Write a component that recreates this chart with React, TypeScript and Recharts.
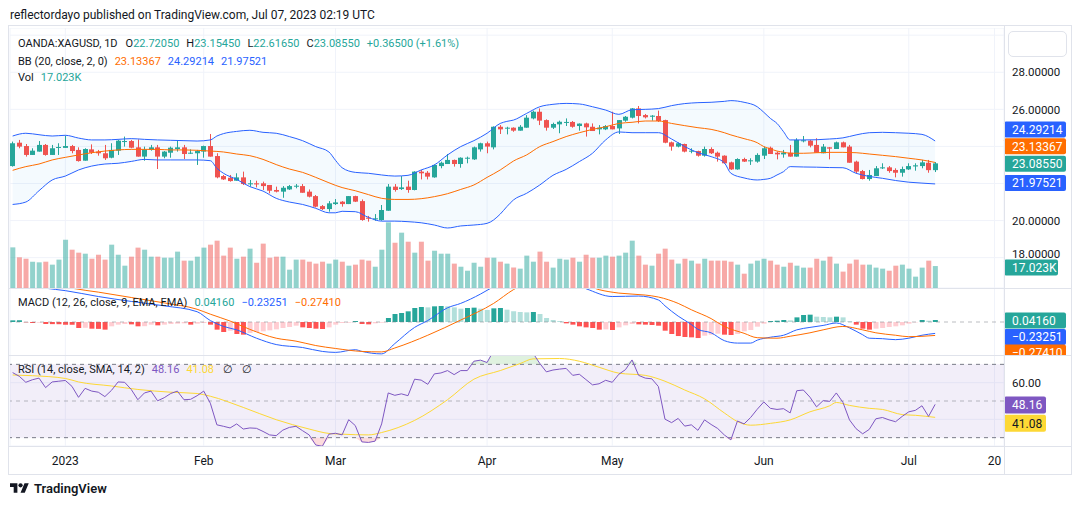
import {
  ComposedChart, Bar, Line, Area, XAxis, YAxis, CartesianGrid,
  ReferenceLine, ReferenceArea, Cell,
} from 'recharts';

// ── Palette / layout ─────────────────────────────────────────────────────────

const FONT = 'Roboto, "Noto Sans", sans-serif';
const TEXT = '#131722';
const UP = '#26a69a';
const DOWN = '#ef5350';
const BLUE = '#2962ff';
const ORANGE = '#ff6d00';
const PURPLE = '#7e57c2';
const YELLOW = '#fdd835';
const GRID = '#f0f3fa';
const BORDER = '#e0e3eb';

const W = 1071;
const PLOT_LEFT = 10;
const AXIS_W = 67;
const X_DOMAIN: [number, number] = [0.6, 151.45];

// bar index of each month start on the date axis
const DATE_TICKS = [9, 30, 50, 73, 92, 115, 137, 150];
const DATE_LABELS = ['2023', 'Feb', 'Mar', 'Apr', 'May', 'Jun', 'Jul', '20'];
const PRICE_TICKS = [18, 20, 22, 24, 26, 28, 30];
const RSI_TICKS = [40, 60];
// scale labels that sit under a value tag
const COVERED_PRICE = [22, 24];
const COVERED_RSI = [40];

// ── XAGUSD daily, Dec 21 → Jul 7 ─────────────────────────────────────────────

const opens = [
  22.94, 24.20, 24.02, 23.54, 23.72, 24.08, 23.54, 23.93, 23.92, 24.02,
  23.81, 23.23, 23.84, 23.72, 23.63, 23.39, 23.77, 24.26, 24.29, 23.95,
  23.45, 23.81, 23.95, 23.45, 23.66, 23.86, 23.95, 23.63, 23.63, 23.72,
  24.02, 23.48, 22.40, 22.31, 22.15, 22.33, 21.97, 22.01, 22.01, 21.92,
  21.65, 21.56, 21.68, 21.84, 21.86, 21.56, 21.32, 20.78, 20.62, 20.89,
  21.02, 20.89, 21.32, 21.05, 20.16, 20.07, 20.03, 20.53, 21.83, 21.70,
  21.83, 21.65, 22.64, 22.58, 22.33, 22.94, 23.05, 23.27, 23.05, 23.36,
  23.30, 23.84, 24.17, 23.95, 25.06, 24.99, 25.01, 24.85, 25.01, 25.51,
  25.87, 25.42, 25.01, 25.19, 25.28, 25.32, 25.10, 25.24, 25.06, 24.92,
  24.92, 25.10, 24.97, 25.39, 25.55, 26.05, 25.69, 25.60, 25.64, 25.42,
  24.22, 23.99, 24.13, 23.72, 23.75, 23.50, 23.86, 23.66, 23.50, 23.14,
  22.76, 23.32, 23.21, 23.18, 23.50, 23.93, 23.66, 23.57, 23.66, 23.45,
  24.29, 24.31, 24.08, 23.63, 23.95, 23.86, 24.22, 23.99, 23.18, 22.67,
  22.24, 22.40, 22.82, 22.87, 22.73, 22.58, 22.76, 22.92, 22.94, 23.12,
  22.7205,
];
const highs = [
  24.26, 24.35, 24.13, 23.90, 24.29, 24.13, 24.08, 24.17, 24.58, 24.08,
  23.95, 23.90, 24.11, 23.81, 24.08, 24.17, 24.35, 24.53, 24.35, 24.38,
  23.99, 24.08, 24.08, 23.75, 23.99, 24.31, 24.08, 23.84, 23.81, 24.04,
  24.67, 23.63, 22.46, 22.46, 22.55, 22.64, 22.19, 22.15, 22.10, 21.92,
  21.83, 21.86, 21.92, 21.97, 21.97, 21.68, 21.38, 20.84, 21.05, 21.16,
  21.05, 21.32, 21.34, 21.14, 20.25, 20.35, 20.84, 21.97, 21.97, 22.40,
  22.15, 22.66, 22.73, 22.67, 23.03, 23.18, 23.59, 23.29, 23.41, 23.45,
  23.99, 24.20, 24.26, 25.08, 25.15, 25.06, 25.03, 25.15, 25.69, 25.93,
  26.05, 25.46, 25.28, 25.39, 25.51, 25.37, 25.24, 25.28, 25.24, 25.15,
  25.15, 25.87, 25.42, 25.64, 26.07, 26.18, 25.75, 25.69, 25.93, 25.44,
  24.26, 24.22, 24.15, 23.90, 23.77, 23.99, 23.95, 23.72, 23.52, 23.18,
  23.36, 23.39, 23.36, 23.63, 23.99, 23.99, 23.72, 23.81, 24.08, 24.44,
  24.56, 24.35, 24.44, 24.13, 23.97, 24.26, 24.26, 24.08, 23.23, 22.73,
  22.73, 22.94, 23.09, 22.94, 22.82, 22.91, 23.09, 23.09, 23.27, 23.27,
  23.1545,
];
const lows = [
  22.91, 23.90, 23.45, 23.54, 23.72, 23.50, 23.54, 23.54, 23.92, 23.63,
  23.18, 23.23, 23.59, 23.50, 23.27, 23.36, 23.54, 23.99, 23.90, 23.45,
  23.23, 23.77, 22.78, 23.36, 23.39, 23.72, 23.32, 23.59, 23.00, 23.39,
  23.45, 22.28, 22.19, 22.10, 22.15, 21.92, 21.83, 21.79, 21.65, 21.47,
  21.52, 21.23, 21.65, 21.74, 21.50, 21.25, 20.71, 20.57, 20.48, 20.84,
  20.75, 20.89, 21.00, 19.99, 19.94, 19.99, 19.99, 20.53, 21.56, 21.65,
  21.50, 21.63, 22.22, 22.22, 22.31, 22.82, 23.05, 22.91, 22.85, 23.09,
  23.27, 23.72, 23.63, 23.84, 24.67, 24.65, 24.79, 24.85, 25.01, 25.46,
  25.15, 24.85, 24.94, 24.71, 25.10, 25.01, 24.85, 24.53, 24.83, 24.65,
  24.88, 24.92, 24.67, 25.33, 25.51, 25.24, 25.51, 25.39, 25.32, 24.17,
  23.77, 23.95, 23.68, 23.63, 23.45, 23.45, 23.59, 23.18, 23.07, 22.73,
  22.74, 23.16, 23.00, 23.12, 23.32, 23.59, 23.30, 23.39, 23.45, 23.45,
  24.22, 23.95, 23.66, 23.63, 23.30, 23.86, 23.95, 23.12, 22.55, 22.22,
  22.15, 22.40, 22.78, 22.58, 22.33, 22.37, 22.73, 22.69, 22.82, 22.58,
  22.6165,
];
const closes = [
  24.17, 23.99, 23.54, 23.77, 24.08, 23.54, 23.90, 23.97, 24.02, 23.75,
  23.21, 23.86, 23.66, 23.63, 23.36, 23.81, 24.31, 24.29, 23.93, 23.45,
  23.84, 23.95, 23.45, 23.72, 23.93, 23.95, 23.59, 23.66, 23.75, 24.02,
  23.45, 22.33, 22.22, 22.13, 22.33, 21.97, 22.01, 21.95, 21.86, 21.61,
  21.56, 21.77, 21.86, 21.88, 21.50, 21.29, 20.75, 20.62, 20.93, 20.98,
  20.89, 21.32, 21.02, 20.03, 20.10, 20.12, 20.57, 21.83, 21.65, 21.79,
  21.65, 22.64, 22.55, 22.37, 23.00, 23.12, 23.27, 23.05, 23.39, 23.39,
  23.95, 24.17, 23.99, 25.06, 24.92, 25.01, 24.85, 25.06, 25.55, 25.87,
  25.39, 25.01, 25.21, 25.33, 25.32, 25.06, 25.23, 25.03, 24.83, 25.01,
  25.10, 24.92, 25.42, 25.60, 26.05, 25.64, 25.57, 25.66, 25.37, 24.20,
  23.99, 24.17, 23.72, 23.77, 23.50, 23.86, 23.63, 23.45, 23.09, 22.76,
  23.32, 23.18, 23.25, 23.54, 23.90, 23.59, 23.57, 23.66, 23.45, 24.35,
  24.33, 24.04, 23.66, 23.99, 23.88, 24.22, 23.95, 23.12, 22.64, 22.24,
  22.46, 22.82, 22.87, 22.67, 22.58, 22.78, 22.94, 22.98, 23.14, 22.72,
  23.0855,
];
// volume, thousands
const volumes = [
  31.5, 23.8, 22.7, 20.4, 19.9, 20.4, 18.1, 22.0, 37.5, 29.7,
  27.4, 26.6, 22.7, 25.8, 22.0, 33.6, 25.8, 17.3, 24.3, 31.3,
  29.7, 24.3, 24.3, 23.5, 23.5, 28.2, 21.2, 21.2, 24.3, 31.3,
  33.6, 36.7, 25.1, 31.3, 22.7, 24.3, 30.5, 19.6, 34.4, 23.5,
  24.3, 24.3, 14.2, 22.0, 22.0, 20.4, 18.9, 20.4, 18.9, 22.0,
  20.4, 17.3, 18.1, 22.0, 21.2, 16.5, 29.7, 50.9, 35.1, 42.9,
  35.9, 27.4, 35.9, 21.2, 28.9, 26.6, 26.6, 18.9, 16.5, 13.4,
  19.6, 16.5, 23.5, 23.5, 20.4, 18.9, 15.8, 15.0, 25.1, 20.4,
  28.2, 20.4, 15.8, 22.7, 22.0, 23.5, 20.4, 25.8, 23.5, 23.5,
  25.1, 24.3, 25.1, 27.4, 36.7, 25.1, 18.1, 17.3, 26.6, 30.5,
  22.0, 18.9, 22.7, 21.2, 18.9, 22.7, 21.2, 21.2, 21.2, 20.4,
  18.1, 11.1, 18.9, 21.2, 22.7, 21.2, 18.1, 16.5, 19.6, 17.3,
  15.8, 15.8, 22.7, 21.2, 24.3, 18.9, 12.7, 18.9, 22.0, 18.1,
  18.1, 15.8, 15.0, 13.4, 17.3, 18.1, 15.0, 8.8, 15.8, 21.2,
  17.023,
];

// Bollinger Bands (20, 2), sampled at these bar indices
const bbIdx = [
  1, 3, 5, 7, 9, 11, 13, 15, 17, 19, 21, 23, 25, 27, 29, 31, 32, 33, 35, 37,
  39, 41, 43, 45, 47, 49, 50, 51, 53, 55, 57, 59, 61, 63, 65, 67, 69, 71, 73, 75,
  76, 77, 79, 81, 83, 85, 87, 89, 91, 93, 95, 97, 99, 101, 103, 105, 107, 109, 110, 112,
  114, 115, 116, 117, 118, 119, 121, 123, 125, 127, 129, 131, 133, 135, 137, 139, 141,
];
const bbUpper = [
  24.56, 24.71, 24.63, 24.56, 24.60, 24.45, 24.35, 24.35, 24.38, 24.42,
  24.38, 24.35, 24.33, 24.31, 24.29, 24.35, 24.56, 24.69, 24.81, 24.87,
  24.76, 24.71, 24.53, 24.31, 23.99, 23.70, 23.25, 22.85, 22.60, 22.55,
  22.46, 22.40, 22.44, 22.73, 23.00, 23.54, 23.99, 24.31, 24.71, 25.24,
  25.35, 25.42, 25.78, 26.14, 26.27, 26.32, 26.29, 26.14, 25.96, 25.73,
  25.98, 26.00, 26.04, 26.20, 26.31, 26.36, 26.38, 26.43, 26.47, 26.38,
  26.14, 25.84, 25.51, 25.24, 24.79, 24.35, 24.35, 24.36, 24.40, 24.46,
  24.62, 24.74, 24.76, 24.74, 24.71, 24.65, 24.29214,
];
const bbBasis = [
  22.71, 22.91, 23.05, 23.27, 23.41, 23.54, 23.66, 23.75, 23.81, 23.84,
  23.84, 23.84, 23.81, 23.81, 23.79, 23.75, 23.73, 23.70, 23.59, 23.50,
  23.30, 23.02, 22.78, 22.60, 22.33, 22.04, 21.90, 21.78, 21.61, 21.40,
  21.20, 21.14, 21.14, 21.18, 21.29, 21.45, 21.68, 21.92, 22.33, 22.73,
  22.97, 23.21, 23.54, 23.99, 24.26, 24.53, 24.74, 24.92, 25.06, 25.24,
  25.30, 25.37, 25.37, 25.24, 25.12, 25.01, 24.92, 24.74, 24.62, 24.42,
  24.20, 23.99, 23.87, 23.75, 23.69, 23.63, 23.63, 23.66, 23.68, 23.68,
  23.66, 23.59, 23.52, 23.45, 23.36, 23.27, 23.13367,
];
const bbLower = [
  20.87, 21.00, 21.61, 22.19, 22.40, 22.73, 22.94, 23.05, 23.09, 23.19,
  23.30, 23.27, 23.27, 23.27, 23.27, 23.23, 22.82, 22.55, 22.22, 21.83,
  21.59, 21.20, 21.00, 20.87, 20.66, 20.42, 20.42, 20.50, 20.48, 20.17,
  19.97, 19.97, 19.94, 19.88, 19.76, 19.60, 19.71, 19.76, 19.85, 20.35,
  20.75, 21.11, 21.47, 21.92, 22.44, 22.76, 23.18, 23.63, 24.35, 24.78,
  24.74, 24.74, 24.74, 24.40, 23.99, 23.66, 23.45, 23.12, 22.55, 22.30,
  22.19, 22.22, 22.28, 22.46, 22.64, 22.91, 22.89, 22.88, 22.86, 22.85,
  22.55, 22.38, 22.28, 22.16, 22.07, 22.02, 21.97521,
];

// MACD (12, 26, 9)
const macdIdx = [
  1, 3, 6, 9, 14, 19, 24, 29, 31, 33, 35, 38, 41, 45, 48, 50, 53, 54, 57, 59,
  62, 64, 67, 69, 72, 74, 78, 84, 88, 92, 96, 99, 100, 101, 102, 104, 105, 107, 109, 111,
  113, 114, 116, 118, 120, 122, 124, 126, 128, 130, 131, 133, 135, 137, 139, 141,
];
const macdLine = [
  0.85, 0.76, 0.69, 0.64, 0.52, 0.42, 0.33, 0.21, 0.03, -0.09,
  -0.16, -0.33, -0.46, -0.52, -0.60, -0.62, -0.565, -0.60, -0.65, -0.44,
  -0.11, 0.03, 0.29, 0.38, 0.57, 0.72, 0.88, 0.90, 0.68, 0.52,
  0.53, 0.45, 0.33, 0.22, 0.12, -0.05, -0.15, -0.22, -0.38, -0.43,
  -0.43, -0.37, -0.31, -0.27, -0.16, -0.11, -0.07, -0.02, -0.12, -0.26,
  -0.33, -0.34, -0.36, -0.33, -0.27, -0.23251,
];
const signalIdx = [
  1, 5, 10, 14, 19, 24, 29, 31, 34, 37, 41, 44, 47, 50, 54, 57, 59, 64, 69, 74,
  77, 80, 86, 90, 93, 97, 99, 102, 104, 107, 109, 112, 114, 117, 119, 122, 124, 127, 130, 132,
  135, 137, 141,
];
const signalLine = [
  0.98, 0.86, 0.69, 0.61, 0.50, 0.39, 0.26, 0.16, 0.02, -0.15,
  -0.33, -0.39, -0.48, -0.54, -0.60, -0.61, -0.53, -0.27, 0.04, 0.38,
  0.66, 0.85, 0.85, 0.66, 0.59, 0.55, 0.51, 0.38, 0.25, 0.07,
  -0.09, -0.23, -0.32, -0.33, -0.29, -0.22, -0.16, -0.09, -0.16, -0.22,
  -0.27, -0.30, -0.27410,
];
const macdHist = [
  0.034, 0.036, -0.007, -0.020, -0.014, -0.041, -0.043, -0.045, -0.054, -0.056,
  -0.122, -0.118, -0.136, -0.140, -0.156, -0.088, -0.054, -0.041, -0.048, -0.088,
  -0.085, -0.054, -0.068, -0.054, -0.041, -0.034, -0.027, -0.054, -0.034, -0.020,
  -0.054, -0.156, -0.204, -0.177, -0.245, -0.258, -0.224, -0.204, -0.190, -0.170,
  -0.150, -0.122, -0.102, -0.075, -0.109, -0.122, -0.136, -0.143, -0.109, -0.054,
  -0.020, -0.014, 0.020, -0.041, -0.048, -0.027, -0.014, 0.082, 0.163, 0.184,
  0.218, 0.286, 0.306, 0.299, 0.320, 0.327, 0.320, 0.299, 0.272, 0.286,
  0.293, 0.272, 0.245, 0.279, 0.286, 0.252, 0.218, 0.204, 0.197, 0.204,
  0.163, 0.082, 0.041, 0.020, -0.027, -0.054, -0.088, -0.109, -0.122, -0.156,
  -0.150, -0.163, -0.109, -0.068, -0.041, -0.048, -0.054, -0.061, -0.075, -0.177,
  -0.245, -0.286, -0.306, -0.313, -0.327, -0.279, -0.258, -0.238, -0.258, -0.265,
  -0.245, -0.190, -0.163, -0.095, -0.034, 0.020, 0.027, 0.041, 0.034, 0.095,
  0.143, 0.150, 0.109, 0.102, 0.095, 0.109, 0.095, 0.014, -0.054, -0.136,
  -0.156, -0.136, -0.122, -0.102, -0.088, -0.068, -0.034, -0.007, 0.041, 0.027,
  0.0416,
];

// RSI (14) and its 14-bar SMA
const rsiValues = [
  65.5, 63.5, 60.2, 61.6, 62.5, 57.3, 60.4, 60.8, 61.2, 58.0,
  52.0, 56.9, 55.4, 54.8, 52.4, 55.8, 60.4, 60.2, 56.3, 50.7,
  54.4, 55.4, 50.1, 51.8, 54.1, 55.4, 50.7, 50.9, 52.9, 55.4,
  48.8, 37.0, 36.2, 35.3, 37.5, 34.7, 35.3, 35.1, 33.4, 31.5,
  31.1, 34.1, 35.6, 36.2, 33.8, 31.5, 26.0, 25.3, 31.9, 32.4,
  31.5, 39.8, 36.6, 27.7, 27.4, 28.1, 37.5, 54.4, 53.1, 53.9,
  52.9, 61.9, 61.4, 59.1, 64.8, 65.3, 66.6, 64.4, 66.6, 66.6,
  71.7, 72.3, 71.0, 77.5, 76.0, 76.2, 75.5, 76.3, 77.8, 76.0,
  70.5, 65.9, 66.9, 67.4, 67.8, 64.0, 64.6, 61.7, 58.8, 59.4,
  61.3, 60.2, 64.6, 67.1, 72.4, 64.0, 62.5, 62.1, 57.9, 40.1,
  38.2, 40.5, 36.3, 37.0, 34.0, 39.7, 37.2, 35.0, 31.5, 28.8,
  39.1, 37.5, 41.0, 45.5, 49.5, 46.0, 45.4, 45.8, 43.5, 55.6,
  56.0, 52.1, 46.8, 50.2, 49.8, 54.4, 49.3, 39.7, 34.9, 32.1,
  34.5, 40.3, 41.0, 39.7, 38.7, 41.6, 44.1, 44.9, 47.4, 41.6,
  48.16,
];
const rsiMaIdx = [
  1, 4, 9, 11, 16, 20, 25, 29, 31, 36, 41, 46, 49, 51, 55, 57, 62, 67, 71, 75,
  78, 80, 84, 87, 90, 93, 97, 100, 103, 106, 109, 111, 113, 116, 119, 122, 125, 126, 128, 131,
  133, 136, 138, 141,
];
const rsiMa = [
  64.2, 63.8, 62.3, 60.4, 58.2, 56.3, 54.8, 54.1, 52.6, 46.5,
  39.8, 34.7, 32.3, 31.9, 31.5, 32.8, 39.4, 50.7, 61.9, 66.6,
  70.4, 73.0, 73.2, 71.7, 68.4, 65.2, 64.0, 60.8, 56.0, 51.2,
  43.5, 38.8, 36.8, 37.8, 39.7, 44.1, 47.4, 49.2, 47.6, 46.0,
  45.4, 42.6, 42.2, 41.08,
];

// ── Row table for the charts ─────────────────────────────────────────────────

type Row = {
  i: number; o: number; h: number; l: number; c: number; v: number;
  hist: number; rsi: number;
  bbU?: number; bbM?: number; bbL?: number; band?: [number, number];
  macd?: number; signal?: number; rsiMa?: number;
};

const rows: Row[] = opens.map((o, k) => ({
  i: k + 1, o, h: highs[k], l: lows[k], c: closes[k], v: volumes[k],
  hist: macdHist[k], rsi: rsiValues[k],
}));
bbIdx.forEach((i, k) => {
  Object.assign(rows[i - 1], {
    bbU: bbUpper[k], bbM: bbBasis[k], bbL: bbLower[k], band: [bbLower[k], bbUpper[k]],
  });
});
macdIdx.forEach((i, k) => { rows[i - 1].macd = macdLine[k]; });
signalIdx.forEach((i, k) => { rows[i - 1].signal = signalLine[k]; });
rsiMaIdx.forEach((i, k) => { rows[i - 1].rsiMa = rsiMa[k]; });

function histColor(k: number) {
  const h = macdHist[k];
  const prev = k > 0 ? macdHist[k - 1] : 0;
  if (h >= 0) return prev < h ? '#26a69a' : '#b2dfdb';
  return prev < h ? '#ffcdd2' : '#ff5252';
}

// ── Shapes ───────────────────────────────────────────────────────────────────

// eslint-disable-next-line @typescript-eslint/no-explicit-any
function Candle(props: any) {
  const { x, y, width, height, payload } = props;
  if (!payload || y == null) return null;
  const { o, h, l, c } = payload as Row;
  const color = c >= o ? UP : DOWN;
  const top = Math.min(y, y + height);
  const bot = Math.max(y, y + height);
  const ppu = (bot - top) / (h - l || 1);
  const yOf = (p: number) => top + (h - p) * ppu;
  const bodyTop = yOf(Math.max(o, c));
  const bodyBot = yOf(Math.min(o, c));
  const left = Math.round(x);
  const cx = left + Math.floor(width / 2) + 0.5;
  return (
    <g>
      <line x1={cx} x2={cx} y1={top} y2={bot} stroke={color} strokeWidth={1} />
      <rect x={left} y={bodyTop} width={Math.round(width)} height={Math.max(1, bodyBot - bodyTop)} fill={color} />
    </g>
  );
}

// value tag on the right-hand price scale
// eslint-disable-next-line @typescript-eslint/no-explicit-any
function AxisTag(props: any) {
  const { viewBox, text, bg, color = '#fff', dy = 0, w = 62, h = 16 } = props;
  if (!viewBox) return null;
  const x = viewBox.x + viewBox.width;
  const y = viewBox.y + dy;
  return (
    <g>
      <rect x={x} y={y - h / 2} width={w} height={h} rx={2} fill={bg} />
      <text x={x + 8} y={y + 4.3} fill={color} fontSize={12} fontFamily={FONT}>{text}</text>
    </g>
  );
}

// scale label; labels under a value tag are left out, 18 is nudged above the volume tag
// eslint-disable-next-line @typescript-eslint/no-explicit-any
function ScaleTick(props: any) {
  const { x, y, payload, covered = [], digits = 5 } = props;
  const v = payload?.value as number;
  if (covered.includes(v)) return <g />;
  const dy = v === 18 ? 0.8 : 4.2;
  return (
    <text x={x} y={y + dy} fill={TEXT} fontSize={11.5} fontFamily={FONT}>{v.toFixed(digits)}</text>
  );
}

const dateTick = { fill: TEXT, fontSize: 12, fontFamily: FONT };
const margin = { top: 0, right: 0, bottom: 0, left: PLOT_LEFT };

// ── Panes ────────────────────────────────────────────────────────────────────

function PricePane() {
  return (
    <ComposedChart width={W} height={260} data={rows} margin={margin}>
      <XAxis xAxisId="p" dataKey="i" type="number" domain={X_DOMAIN} ticks={DATE_TICKS} allowDataOverflow hide />
      <XAxis xAxisId="v" dataKey="i" type="number" domain={X_DOMAIN} allowDataOverflow hide />
      <YAxis
        yAxisId="p" orientation="right" width={AXIS_W}
        domain={[16.363, 30.387]} ticks={PRICE_TICKS} interval={0} allowDataOverflow
        axisLine={false} tickLine={false} tickSize={0} tickMargin={8}
        tick={(p: unknown) => <ScaleTick {...(p as object)} covered={COVERED_PRICE} digits={5} />}
      />
      <YAxis yAxisId="v" domain={[0, 201.6]} allowDataOverflow hide />
      <CartesianGrid xAxisId="p" yAxisId="p" stroke={GRID} />

      <Area xAxisId="p" yAxisId="p" dataKey="band" type="monotone" connectNulls
        stroke="none" fill="#2196f3" fillOpacity={0.05} isAnimationActive={false} />

      <Bar xAxisId="v" yAxisId="v" dataKey="v" barSize={5} isAnimationActive={false}>
        {rows.map(r => (
          <Cell key={r.i} fill={r.c >= r.o ? 'rgba(38,166,154,0.5)' : 'rgba(239,83,80,0.5)'} />
        ))}
      </Bar>

      <Line xAxisId="p" yAxisId="p" dataKey="bbU" type="monotone" connectNulls stroke={BLUE} strokeWidth={1} dot={false} activeDot={false} isAnimationActive={false} />
      <Line xAxisId="p" yAxisId="p" dataKey="bbL" type="monotone" connectNulls stroke={BLUE} strokeWidth={1} dot={false} activeDot={false} isAnimationActive={false} />
      <Line xAxisId="p" yAxisId="p" dataKey="bbM" type="monotone" connectNulls stroke={ORANGE} strokeWidth={1} dot={false} activeDot={false} isAnimationActive={false} />

      <Bar xAxisId="p" yAxisId="p" dataKey={(d: Row) => [d.l, d.h]} barSize={5}
        shape={(p: unknown) => <Candle {...(p as object)} />} isAnimationActive={false} />

      <ReferenceLine xAxisId="p" yAxisId="p" y={bbUpper[bbUpper.length - 1]} stroke="none"
        label={<AxisTag text="24.29214" bg={BLUE} dy={-11.4} />} />
      <ReferenceLine xAxisId="p" yAxisId="p" y={bbBasis[bbBasis.length - 1]} stroke="none"
        label={<AxisTag text="23.13367" bg={ORANGE} dy={-16.2} />} />
      <ReferenceLine xAxisId="p" yAxisId="p" y={closes[closes.length - 1]} stroke="none"
        label={<AxisTag text="23.08550" bg={UP} dy={0.3} />} />
      <ReferenceLine xAxisId="p" yAxisId="p" y={bbLower[bbLower.length - 1]} stroke="none"
        label={<AxisTag text="21.97521" bg={BLUE} dy={-1} />} />
      <ReferenceLine xAxisId="v" yAxisId="v" y={volumes[volumes.length - 1]} stroke="none"
        label={<AxisTag text="17.023K" bg={UP} w={54} dy={1.5} />} />
    </ComposedChart>
  );
}

function MacdPane() {
  return (
    <ComposedChart width={W} height={67} data={rows} margin={margin}>
      <XAxis dataKey="i" type="number" domain={X_DOMAIN} ticks={DATE_TICKS} allowDataOverflow hide />
      <YAxis orientation="right" width={AXIS_W} domain={[-0.673, 0.694]} allowDataOverflow
        tick={false} axisLine={false} tickLine={false} />
      <CartesianGrid horizontal={false} stroke={GRID} />
      <ReferenceLine y={0} stroke="#787b86" strokeOpacity={0.5} strokeDasharray="4 4" />
      <Bar dataKey="hist" barSize={5} isAnimationActive={false}>
        {rows.map((r, k) => <Cell key={r.i} fill={histColor(k)} />)}
      </Bar>
      <Line dataKey="macd" type="monotone" connectNulls stroke={BLUE} strokeWidth={1} dot={false} activeDot={false} isAnimationActive={false} />
      <Line dataKey="signal" type="monotone" connectNulls stroke={ORANGE} strokeWidth={1} dot={false} activeDot={false} isAnimationActive={false} />
      <ReferenceLine y={macdHist[macdHist.length - 1]} stroke="none"
        label={<AxisTag text="0.04160" bg={UP} dy={0.5} />} />
      <ReferenceLine y={macdLine[macdLine.length - 1]} stroke="none"
        label={<AxisTag text="−0.23251" bg={BLUE} dy={3.6} />} />
      {/* signal tag is pushed below the pane edge and shows only its top */}
      <ReferenceLine y={signalLine[signalLine.length - 1]} stroke="none"
        label={<AxisTag text="−0.27410" bg={ORANGE} dy={17} />} />
    </ComposedChart>
  );
}

function RsiPane() {
  return (
    <ComposedChart width={W} height={119} data={rows} margin={margin}>
      <XAxis
        dataKey="i" type="number" domain={X_DOMAIN} ticks={DATE_TICKS} interval={0} allowDataOverflow
        height={28} axisLine={false} tickLine={false} tickSize={0} tickMargin={10} tick={dateTick}
        tickFormatter={(v: number) => DATE_LABELS[DATE_TICKS.indexOf(v)] ?? ''}
      />
      <YAxis
        orientation="right" width={AXIS_W} domain={[25.45, 75.1]} ticks={RSI_TICKS} interval={0} allowDataOverflow
        axisLine={false} tickLine={false} tickSize={0} tickMargin={8}
        tick={(p: unknown) => <ScaleTick {...(p as object)} covered={COVERED_RSI} digits={2} />}
      />
      <CartesianGrid stroke={GRID} />
      <ReferenceArea y1={30} y2={70} fill={PURPLE} fillOpacity={0.1} stroke="none" />
      <ReferenceLine y={70} stroke="#787b86" strokeDasharray="4 4" />
      <ReferenceLine y={50} stroke="#787b86" strokeOpacity={0.5} strokeDasharray="4 4" />
      <ReferenceLine y={30} stroke="#787b86" strokeDasharray="4 4" />
      <Area dataKey={(d: Row) => [70, Math.max(70, d.rsi)]} type="linear" stroke="none"
        fill="#4caf50" fillOpacity={0.18} isAnimationActive={false} />
      <Area dataKey={(d: Row) => [Math.min(30, d.rsi), 30]} type="linear" stroke="none"
        fill="#f23645" fillOpacity={0.18} isAnimationActive={false} />
      <Line dataKey="rsiMa" type="monotone" connectNulls stroke={YELLOW} strokeWidth={1} dot={false} activeDot={false} isAnimationActive={false} />
      <Line dataKey="rsi" type="linear" stroke={PURPLE} strokeWidth={1} dot={false} activeDot={false} isAnimationActive={false} />
      <ReferenceLine y={rsiValues[rsiValues.length - 1]} stroke="none"
        label={<AxisTag text="48.16" bg={PURPLE} w={42} h={17} dy={0.6} />} />
      <ReferenceLine y={rsiMa[rsiMa.length - 1]} stroke="none"
        label={<AxisTag text="41.08" bg={YELLOW} color={TEXT} w={42} h={17} dy={6} />} />
    </ComposedChart>
  );
}

// ── Legend rows ──────────────────────────────────────────────────────────────

const legendRow = (top: number): React.CSSProperties => ({
  position: 'absolute', left: 18, top, fontSize: 11, lineHeight: '16px',
  color: TEXT, whiteSpace: 'nowrap',
});
const gap = { marginLeft: 7 };

function TvLogo() {
  return (
    <div style={{ position: 'absolute', left: 10, top: 481, display: 'flex', alignItems: 'center', gap: 5 }}>
      <svg width="19" height="15" viewBox="0 0 36 28">
        <path d="M14 22H7V11H0V4h14v18zM28 22h-8l7.5-18h8L28 22z" fill={TEXT} />
        <circle cx="20" cy="8" r="4" fill={TEXT} />
      </svg>
      <span style={{ fontSize: 13, fontWeight: 600, color: TEXT }}>TradingView</span>
    </div>
  );
}

export default function App() {
  const hLine = (top: number) => (
    <div style={{ position: 'absolute', left: 9, top, width: 1062, height: 1, background: BORDER }} />
  );
  return (
    <div style={{
      position: 'absolute', left: 0, top: 0, width: 1080, height: 506,
      background: '#fff', overflow: 'hidden', fontFamily: FONT, color: TEXT,
    }}>
      <div style={{ position: 'absolute', left: 10, top: 8, fontSize: 12, whiteSpace: 'nowrap' }}>
        reflectordayo published on TradingView.com, Jul 07, 2023 02:19 UTC
      </div>

      {/* chart frame */}
      <div style={{ position: 'absolute', left: 8, top: 25, width: 1062, height: 448, border: `1px solid ${BORDER}` }} />

      <div style={{ position: 'absolute', left: 0, top: 28 }}><PricePane /></div>
      <div style={{ position: 'absolute', left: 0, top: 288 }}><MacdPane /></div>
      <div style={{ position: 'absolute', left: 0, top: 355 }}><RsiPane /></div>

      {hLine(288)}
      {hLine(355)}
      {hLine(446)}
      <div style={{ position: 'absolute', left: 1004, top: 26, width: 1, height: 448, background: BORDER }} />

      {/* scale button over the top of the price axis */}
      <div style={{
        position: 'absolute', left: 1008, top: 31, width: 57, height: 24,
        border: `1px solid ${BORDER}`, borderRadius: 5, background: '#fff',
      }} />

      <div style={legendRow(36)}>
        OANDA:XAGUSD, 1D
        <span style={{ marginLeft: 8 }}>O<span style={{ color: UP }}>22.72050</span></span>
        <span style={gap}>H<span style={{ color: UP }}>23.15450</span></span>
        <span style={gap}>L<span style={{ color: UP }}>22.61650</span></span>
        <span style={gap}>C<span style={{ color: UP }}>23.08550</span></span>
        <span style={{ ...gap, color: UP }}>+0.36500 (+1.61%)</span>
      </div>
      <div style={legendRow(54)}>
        BB (20, close, 2, 0)
        <span style={{ ...gap, color: ORANGE }}>23.13367</span>
        <span style={{ ...gap, color: BLUE }}>24.29214</span>
        <span style={{ ...gap, color: BLUE }}>21.97521</span>
      </div>
      <div style={legendRow(70)}>
        Vol<span style={{ ...gap, color: UP }}>17.023K</span>
      </div>

      <div style={legendRow(295)}>
        MACD (12, 26, close, 9, EMA, EMA)
        <span style={{ ...gap, color: UP }}>0.04160</span>
        <span style={{ ...gap, color: BLUE }}>−0.23251</span>
        <span style={{ ...gap, color: ORANGE }}>−0.27410</span>
      </div>
      <div style={legendRow(362)}>
        RSI (14, close, SMA, 14, 2)
        <span style={{ ...gap, color: PURPLE }}>48.16</span>
        <span style={{ ...gap, color: YELLOW }}>41.08</span>
        <span style={{ marginLeft: 9 }}>∅</span>
        <span style={{ marginLeft: 9 }}>∅</span>
      </div>

      <TvLogo />
    </div>
  );
}
